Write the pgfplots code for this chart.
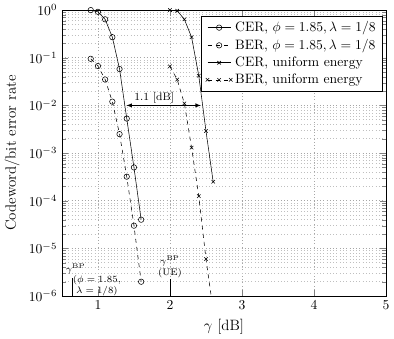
\documentclass[border=0pt]{standalone}
\usepackage{pgfplots}
\pgfplotsset{compat=1.18}
\begin{document}
\begin{tikzpicture}
\begin{semilogyaxis}[
	width=238pt, height=210pt, scale only axis,
	xmin=0.5, xmax=5, ymin=1e-6, ymax=1,
	xtick={1,2,3,4,5},
	grid=both,
	major grid style={dotted, gray!70},
	minor grid style={dotted, gray!50},
	xlabel={$\gamma$ [dB]},
	ylabel={Codeword/bit error rate},
	label style={font=\fontsize{11}{13}\selectfont},
	legend style={at={(0.99,0.98)}, anchor=north east, font=\normalsize},
	legend cell align=left,
	clip mode=individual,
]
% optimized energy allocation
\addplot[black, solid, mark=o, mark options={solid, fill=none}] coordinates {
	(0.9,1.0) (1.0,0.92) (1.1,0.64) (1.2,0.27) (1.3,0.058) (1.4,0.0053) (1.5,5e-4) (1.6,4e-5)};
\addplot[black, dashed, mark=o, mark options={solid, fill=none}] coordinates {
	(0.9,0.095) (1.0,0.067) (1.1,0.035) (1.2,0.012) (1.3,0.0025) (1.4,3.2e-4) (1.5,3e-5) (1.6,2e-6)};
% uniform energy
\addplot[black, solid, mark=x, mark size=1.8pt, mark options={solid}] coordinates {
	(2.0,1.0) (2.1,0.97) (2.2,0.64) (2.3,0.27) (2.4,0.042) (2.5,0.0029) (2.6,2.5e-4)};
\addplot[black, dashed, mark=x, mark size=1.8pt, mark options={solid}, mark indices={1,2,3,4,5,6}] coordinates {
	(2.0,0.066) (2.1,0.035) (2.2,0.011) (2.3,0.0013) (2.4,1.25e-4) (2.5,6e-6) (2.6,5e-7)};
\addlegendentry{CER, $\phi = 1.85, \lambda = 1/8$}
\addlegendentry{BER, $\phi = 1.85, \lambda = 1/8$}
\addlegendentry{CER, uniform energy}
\addlegendentry{BER, uniform energy}

\draw[<->, >=latex] (axis cs:1.395,1e-2) -- (axis cs:2.43,1e-2);
\node[above, font=\footnotesize, inner sep=1.5pt] at (axis cs:1.78,1e-2) {1.1 [dB]};

\draw (axis cs:0.64,1e-6) -- (axis cs:0.64,2.4e-6);
\node[font=\scriptsize, inner sep=0pt] at (axis cs:0.69,3.7e-6) {$\gamma^{\mathrm{BP}}$};
\node[font=\scriptsize, align=center, inner sep=0pt] at (axis cs:0.985,1.65e-6) {($\phi = 1.85$,\\$\lambda = 1/8$)};

\draw (axis cs:2.0,1e-6) -- (axis cs:2.0,2.25e-6);
\node[above, font=\scriptsize, align=center, inner sep=1pt] at (axis cs:2.0,2.25e-6) {$\gamma^{\mathrm{BP}}$\\(UE)};
\end{semilogyaxis}
\end{tikzpicture}
\end{document}
